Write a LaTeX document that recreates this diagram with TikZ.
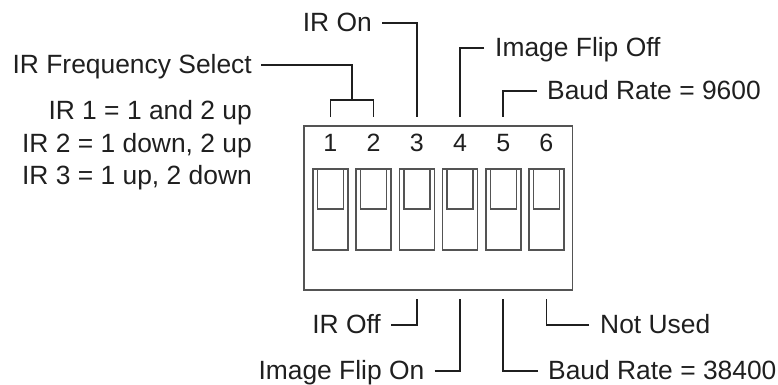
\documentclass[tikz,border=0pt]{standalone}
\usepackage{fontspec}
\setmainfont{Liberation Sans}
\definecolor{boxgray}{gray}{0.33}
\definecolor{linegray}{gray}{0.12}
\tikzset{
  lbl/.style={font=\fontsize{26.4}{30}\selectfont,text=linegray,inner sep=0pt,text height=17.5pt,text depth=0pt},
  tag/.style={lbl,inner xsep=10pt},
  lead/.style={draw=linegray,line width=1.5pt},
  num/.style={lbl,font=\fontsize{25}{30}\selectfont,anchor=center},
  slot/.style={draw=boxgray,line width=1.5pt},
}
\begin{document}
\begin{tikzpicture}[x=1pt,y=-1pt]
  \useasboundingbox (0, 0) rectangle (778, 384);
  % body of the switch block
  \draw[boxgray,line width=1.7pt] (304, 126) rectangle (572.5, 290);
  \begin{scope}[slot]
  \draw (313, 169) rectangle (348, 250);
  \draw (317.5, 169) rectangle (343.5, 209);
  \draw (356.2, 169) rectangle (391.2, 250);
  \draw (360.7, 169) rectangle (386.7, 209);
  \draw (399.4, 169) rectangle (434.4, 250);
  \draw (403.9, 169) rectangle (429.9, 209);
  \draw (442.6, 169) rectangle (477.6, 250);
  \draw (447.1, 169) rectangle (473.1, 209);
  \draw (485.8, 169) rectangle (520.8, 250);
  \draw (490.3, 169) rectangle (516.3, 209);
  \draw (529, 169) rectangle (564, 250);
  \draw (533.5, 169) rectangle (559.5, 209);
  \end{scope}
  \node[num] (num1) at (330.3, 143) {1};
  \node[num] (num2) at (373.5, 143) {2};
  \node[num] (num3) at (416.8, 143) {3};
  \node[num] (num4) at (460, 143) {4};
  \node[num] (num5) at (503.2, 143) {5};
  \node[num] (num6) at (546.4, 143) {6};
  % free ends of the leads
  \coordinate (top1) at (330.3, 117);
  \coordinate (top2) at (373.5, 117);
  \coordinate (top3) at (416.8, 117);
  \coordinate (top4) at (460, 117);
  \coordinate (top5) at (503.2, 117);
  \coordinate (joint) at (352, 100);
  \coordinate (bot3) at (416.8, 299);
  \coordinate (bot4) at (460, 299);
  \coordinate (bot5) at (503.2, 299);
  \coordinate (bot6) at (546.4, 299);
  % labels above
  \node[tag,anchor=east] (iron) at (382, 23) {IR On};
  \node[tag,anchor=east,inner xsep=9pt] (irfreq) at (261, 65) {IR Frequency Select};
  \node[tag,anchor=west,inner xsep=11pt] (flipoff) at (484, 48) {Image Flip Off};
  \node[tag,anchor=west] (baudlow) at (537, 91) {Baud Rate = 9600};
  \node[lbl,anchor=east] (irone) at (252, 111) {IR 1 = 1 and 2 up};
  \node[lbl,anchor=east] (irtwo) at (252, 143.5) {IR 2 = 1 down, 2 up};
  \node[lbl,anchor=east] (irthree) at (252, 176) {IR 3 = 1 up, 2 down};
  % labels below
  \node[tag,anchor=east] (iroff) at (391, 325) {IR Off};
  \node[tag,anchor=east] (flipon) at (434.5, 371) {Image Flip On};
  \node[tag,anchor=west] (baudhigh) at (538, 371) {Baud Rate = 38400};
  \node[tag,anchor=west,inner xsep=11pt] (unused) at (589, 325) {Not Used};
  % leads
  \begin{scope}[lead]
  \draw (iron.east) -| (top3);
  \draw (flipoff.west) -| (top4);
  \draw (baudlow.west) -| (top5);
  \draw (irfreq.east) -| (joint);
  \draw (top1) |- (joint) -| (top2);
  \draw (iroff.east) -| (bot3);
  \draw (flipon.east) -| (bot4);
  \draw (baudhigh.west) -| (bot5);
  \draw (unused.west) -| (bot6);
  \end{scope}
\end{tikzpicture}
\end{document}
